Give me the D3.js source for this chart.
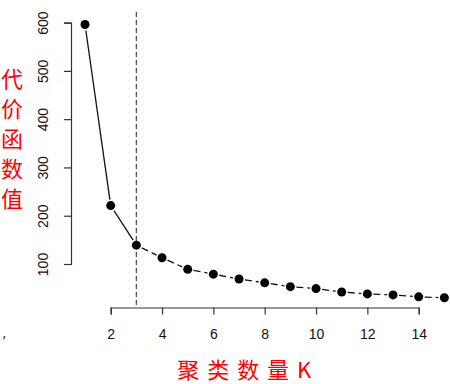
<!DOCTYPE html>
<html><head><meta charset="utf-8">
<script src="https://cdn.jsdelivr.net/npm/d3@7"></script>
<style>body{margin:0;background:#fff}svg{display:block}</style>
</head><body>
<script>
const kValues = [1,2,3,4,5,6,7,8,9,10,11,12,13,14,15];
const costValues = [596,221,139,113,89,79,69,61,53,49,42,38,36,32,30];
const xTicks = [2,4,6,8,10,12,14];
const yTicks = [100,200,300,400,500,600];
const elbowK = 3;
const yLabel = "代价函数值";
const xLabel = "聚类数量K";

const W=450,H=384;
const svg=d3.select("body").append("svg").attr("width",W).attr("height",H);
const x=d3.scaleLinear().domain([2,14]).range([110.7,418.7]);
const y=d3.scaleLinear().domain([100,600]).range([264,22.6]);
const font="'Liberation Sans', Arial, sans-serif";

// axes
const xa=svg.append("g").attr("transform","translate(0,307.5)")
  .call(d3.axisBottom(x).tickValues(xTicks).tickSize(7).tickPadding(15).tickFormat(d3.format("d")));
const ya=svg.append("g").attr("transform","translate(71,0)")
  .call(d3.axisLeft(y).tickValues(yTicks).tickSize(7).tickPadding(4).tickFormat(d3.format("d")));
[xa,ya].forEach(g=>{g.selectAll("path,line").attr("stroke","#333").attr("stroke-width",1.2);
  g.selectAll("text").attr("font-family",font).attr("font-size",14).attr("fill","#111");});
ya.selectAll(".tick").each(function(d){
  d3.select(this).select("text").attr("text-anchor","middle")
    .attr("transform",`translate(-28,0) rotate(-90)`).attr("x",0).attr("y",0).attr("dy","0.35em");
});

// elbow line
svg.append("line").attr("x1",x(elbowK)).attr("x2",x(elbowK)).attr("y1",12).attr("y2",307.5)
  .attr("stroke","#555").attr("stroke-width",1.3).attr("stroke-dasharray","5,3");

// segments with gaps
const gap=6;
for(let i=0;i<kValues.length-1;i++){
  const x1=x(kValues[i]),y1=y(costValues[i]),x2=x(kValues[i+1]),y2=y(costValues[i+1]);
  const dx=x2-x1,dy=y2-y1,L=Math.hypot(dx,dy);
  if(L<2*gap)continue;
  const ux=dx/L,uy=dy/L;
  svg.append("line").attr("x1",x1+ux*gap).attr("y1",y1+uy*gap).attr("x2",x2-ux*gap).attr("y2",y2-uy*gap)
    .attr("stroke","#111").attr("stroke-width",1.3)
    .attr("stroke-dasharray",kValues[i]>=elbowK?"7,4":null);
}
svg.selectAll("circle.pt").data(kValues).enter().append("circle")
  .attr("cx",d=>x(d)).attr("cy",(d,i)=>y(costValues[i])).attr("r",4.5).attr("fill","#000");

// labels
const yl=svg.append("text").attr("font-family","'Noto Sans CJK SC', sans-serif").attr("font-size",22)
  .attr("fill","#ff0000").attr("text-anchor","middle");
Array.from(yLabel).forEach((c,i)=>yl.append("tspan").attr("x",12).attr("y",87+i*30).text(c));
svg.append("text").attr("x",245).attr("y",378).attr("text-anchor","middle")
  .attr("font-family","'Noto Sans CJK SC', sans-serif").attr("font-size",22).attr("letter-spacing",1.5)
  .attr("fill","#ff0000")
  .text(Array.from(xLabel).join(" "));
svg.append("text").attr("x",2).attr("y",346).attr("font-family",font).attr("font-size",14)
  .attr("font-style","italic").attr("fill","#111").text("'");
</script>
</body></html>
